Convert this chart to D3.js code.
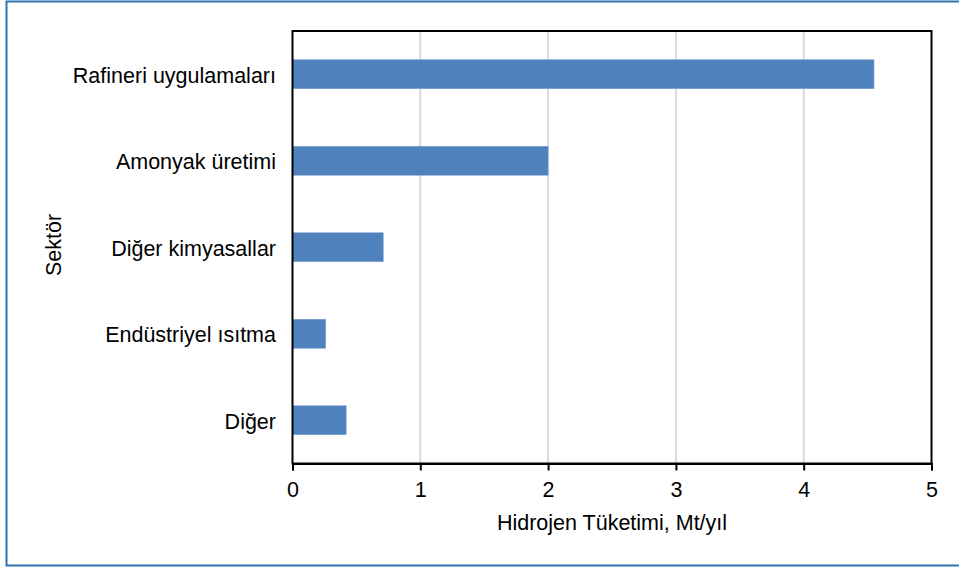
<!DOCTYPE html>
<html>
<head>
<meta charset="utf-8">
<script src="https://cdn.jsdelivr.net/npm/d3@7"></script>
<style>
  html, body { margin: 0; padding: 0; background: #fff; }
  svg { display: block; font-family: "Liberation Sans", Arial, sans-serif; }
</style>
</head>
<body>
<svg id="chart" width="959" height="567"></svg>
<script>
// Hydrogen consumption by sector (Mt/year)
const sectors = ["Rafineri uygulamaları", "Amonyak üretimi", "Diğer kimyasallar", "Endüstriyel ısıtma", "Diğer"];
const consumption = [4.55, 2.0, 0.71, 0.26, 0.42];
const xTicks = [0, 1, 2, 3, 4, 5];
const xTitle = "Hidrojen Tüketimi, Mt/yıl";
const yTitle = "Sektör";

const svg = d3.select("#chart");
const W = 959, H = 567;
const plot = { left: 292.5, top: 31, right: 931.5, bottom: 463.5 };
const fs = 21.5;

// outer frame (open on the right)
svg.append("path")
  .attr("d", `M${W},1.5 H6.5 V565.5 H${W}`)
  .attr("fill", "none")
  .attr("stroke", "#2e75b6")
  .attr("stroke-width", 2);

const x = d3.scaleLinear().domain([0, 5]).range([plot.left, plot.right]);
const y = d3.scaleBand().domain(sectors).range([plot.top, plot.bottom]).paddingInner(0.665).paddingOuter(0.3325);

// vertical gridlines
svg.append("g")
  .selectAll("line")
  .data(xTicks.filter(t => t > 0 && t < 5))
  .join("line")
  .attr("x1", d => x(d)).attr("x2", d => x(d))
  .attr("y1", plot.top).attr("y2", plot.bottom)
  .attr("stroke", "#d9d9d9")
  .attr("stroke-width", 2);

// bars
svg.append("g")
  .selectAll("rect")
  .data(sectors.map((s, i) => ({ s, v: consumption[i] })))
  .join("rect")
  .attr("x", x(0))
  .attr("y", d => y(d.s))
  .attr("width", d => x(d.v) - x(0))
  .attr("height", y.bandwidth())
  .attr("fill", "#4f81bd")
  .attr("stroke", "#7fa3d1")
  .attr("stroke-width", 0.6);

// plot frame
svg.append("rect")
  .attr("x", plot.left).attr("y", plot.top)
  .attr("width", plot.right - plot.left)
  .attr("height", plot.bottom - plot.top)
  .attr("fill", "none")
  .attr("stroke", "#000")
  .attr("stroke-width", 2);

// x axis
const xAxis = svg.append("g")
  .attr("transform", `translate(0,${plot.bottom})`)
  .call(d3.axisBottom(x).tickValues(xTicks).tickFormat(d3.format("d")).tickSize(7).tickPadding(11));
xAxis.select(".domain").attr("stroke", "#000").attr("stroke-width", 2);
xAxis.selectAll(".tick line").attr("stroke", "#000").attr("stroke-width", 2);
xAxis.selectAll(".tick text")
  .attr("font-size", fs)
  .attr("fill", "#000")
  .attr("font-family", "Liberation Sans, Arial, sans-serif");

// category labels
svg.append("g")
  .selectAll("text")
  .data(sectors)
  .join("text")
  .attr("x", 276)
  .attr("y", d => y(d) + y.bandwidth() / 2 + 1)
  .attr("dy", "0.35em")
  .attr("text-anchor", "end")
  .attr("font-size", fs)
  .attr("fill", "#000")
  .text(d => d);

// axis titles
svg.append("text")
  .attr("x", (plot.left + plot.right) / 2)
  .attr("y", 522)
  .attr("dy", "0.35em")
  .attr("text-anchor", "middle")
  .attr("font-size", fs)
  .attr("fill", "#000")
  .text(xTitle);

svg.append("text")
  .attr("transform", `translate(53,245) rotate(-90)`)
  .attr("dy", "0.35em")
  .attr("text-anchor", "middle")
  .attr("font-size", fs)
  .attr("fill", "#000")
  .text(yTitle);
</script>
</body>
</html>
